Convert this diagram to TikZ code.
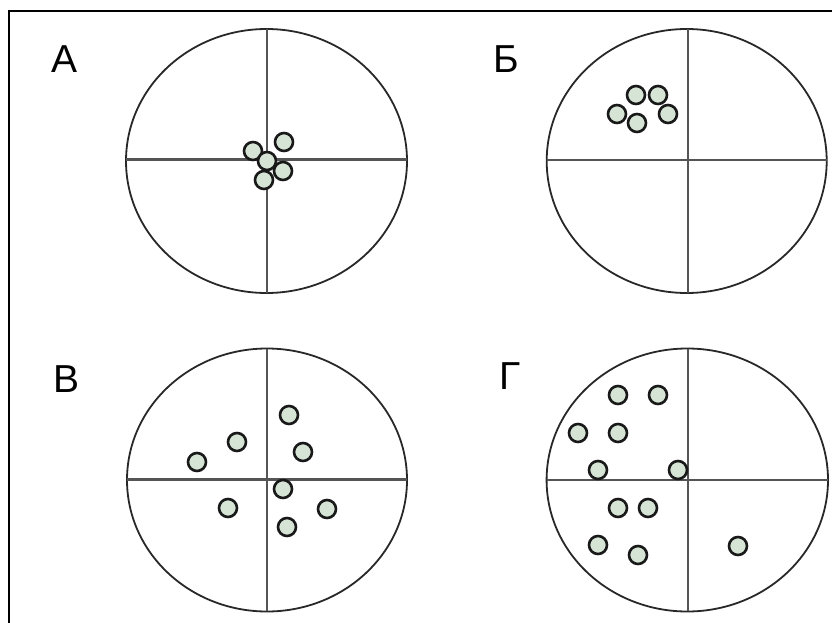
\documentclass[tikz,border=0pt]{standalone}
\usepackage{fontspec}
\setmainfont{Liberation Sans}
\usepackage{xcolor}
\usetikzlibrary{positioning}

\definecolor{dotfill}{RGB}{214,228,214}
\definecolor{ringgray}{RGB}{40,40,40}
\definecolor{axisgray}{RGB}{85,85,85}

\begin{document}
\begin{tikzpicture}[
  x=1pt, y=-1pt,
  ring/.style={draw=ringgray, line width=1.8pt},
  axis/.style={draw=axisgray, line width=2.2pt},
  dot/.style={draw=black!90, line width=2.6pt, fill=dotfill},
  letter/.style={font=\fontsize{39}{39}\selectfont, inner sep=0pt, anchor=center},
  frame/.style={draw=black, line width=2pt}
]
  \useasboundingbox (0,0) rectangle (832,623);

  % Frame (open at right and bottom)
  \draw[frame] (9,623) -- (9,11) -- (832,11);

  % Panel A
  \node[letter] (labA) at (65,59) {А};
  \draw[ring] (266.5,161) ellipse (140.5 and 132);
  \draw[axis] (266.7,29) -- (266.7,293);
  \draw[axis] (126,159.5) -- (407,159.5);
  \foreach \x/\y in {253/151, 284/142, 283/171, 264/180, 267/161}
    \draw[dot] (\x,\y) circle (9);

  % Panel B
  \node[letter] (labB) at (506.5,59) {Б};
  \draw[ring] (686.7,161) ellipse (140 and 132);
  \draw[axis] (688,29) -- (688,293);
  \draw[axis] (546.7,160) -- (826.7,160);
  \foreach \x/\y in {617/114, 636/95, 658/95, 668/114, 637/123}
    \draw[dot] (\x,\y) circle (9);

  % Panel V
  \node[letter] (labV) at (66.5,379.5) {В};
  \draw[ring] (267,480) ellipse (140 and 131.5);
  \draw[axis] (266.7,348.5) -- (266.7,611);
  \draw[axis] (126.7,479.5) -- (407,479.5);
  \foreach \x/\y in {197/462, 237/442, 289/415, 303/452, 283/489, 228/508, 327/509, 287/527}
    \draw[dot] (\x,\y) circle (9);

  % Panel G
  \node[letter] (labG) at (510,376) {Г};
  \draw[ring] (687.3,480) ellipse (140.7 and 131.5);
  \draw[axis] (688,348.5) -- (688,611);
  \draw[axis] (546.7,480) -- (828,480);
  \foreach \x/\y in {618/395, 658/395, 578/433, 618/433, 598/470, 678/470,
                     618/508, 648/508, 598/545, 638/555, 738/546}
    \draw[dot] (\x,\y) circle (9);

\end{tikzpicture}
\end{document}
